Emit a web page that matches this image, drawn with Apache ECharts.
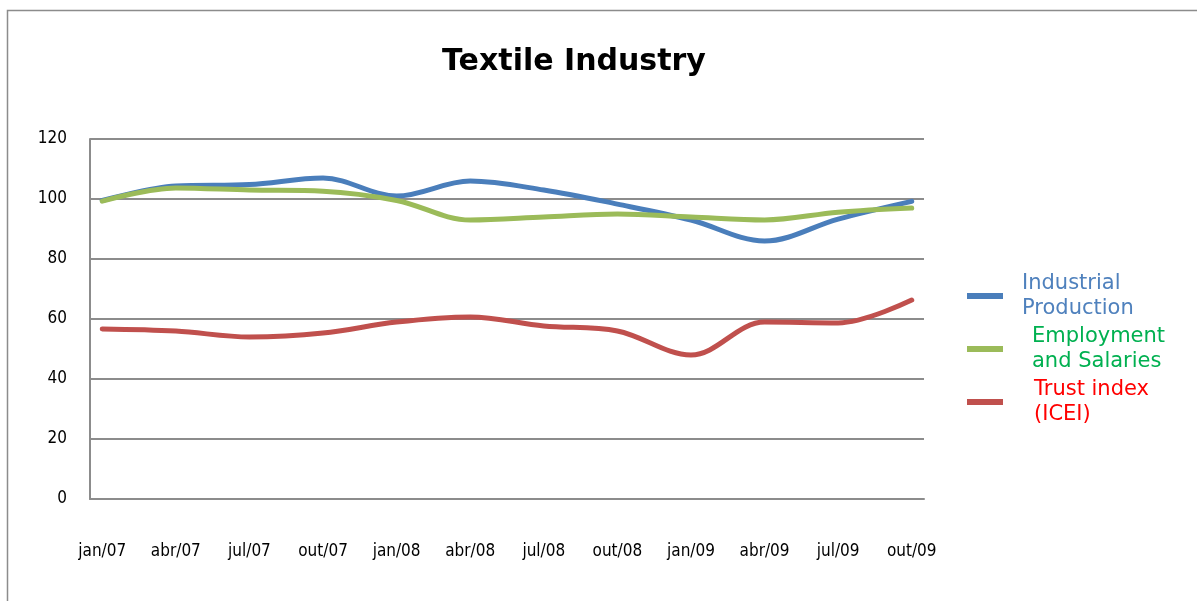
<!DOCTYPE html>
<html>
<head>
<meta charset="utf-8">
<title>Textile Industry</title>
<script src="https://cdn.jsdelivr.net/npm/echarts@6/dist/echarts.min.js"></script>
<style>
  html, body { margin: 0; padding: 0; background: #ffffff; }
  #chart { width: 1197px; height: 601px; }
</style>
</head>
<body>
<div id="chart"></div>
<script>
// Monthly axis Jan 2007 – Oct 2009; one reading per quarter (jan, abr, jul, out)
const monthNames = ['jan', 'fev', 'mar', 'abr', 'mai', 'jun', 'jul', 'ago', 'set', 'out', 'nov', 'dez'];
const years = ['07', '08', '09'];
const quarterLabels = ['jan/07', 'abr/07', 'jul/07', 'out/07', 'jan/08', 'abr/08',
                       'jul/08', 'out/08', 'jan/09', 'abr/09', 'jul/09', 'out/09'];

const industrialProduction = [99.5, 104.3, 104.8, 107.0, 101.0, 106.0, 103.0, 98.3, 93.0, 86.0, 93.3, 99.2];
const employmentSalaries   = [99.3, 103.7, 103.0, 102.6, 99.5, 93.0, 94.0, 95.0, 94.0, 93.0, 95.6, 97.0];
const trustIndex           = [56.7, 56.0, 54.0, 55.3, 59.0, 60.7, 57.7, 56.0, 48.0, 59.0, 58.7, 66.3];

const yTicks = [0, 20, 40, 60, 80, 100, 120];

const months = [];
years.forEach(y => monthNames.forEach(m => months.push(m + '/' + y)));
const categories = months.slice(0, months.indexOf('out/09') + 1);

// place each quarterly reading on its month, leaving the other months empty
function toMonthly(values) {
  const out = categories.map(() => null);
  quarterLabels.forEach((q, i) => { out[categories.indexOf(q)] = values[i]; });
  return out;
}

const chart = echarts.init(document.getElementById('chart'));

const seriesDefs = [
  { name: 'Industrial\nProduction', values: industrialProduction, color: '#4A7EBB', text: '#4F81BD', pad: 14 },
  { name: 'Employment\nand Salaries', values: employmentSalaries, color: '#9BBB59', text: '#00B050', pad: 24 },
  { name: 'Trust index\n(ICEI)', values: trustIndex, color: '#C0504D', text: '#FF0000', pad: 26 }
];

chart.setOption({
  animation: false,
  backgroundColor: '#ffffff',
  title: {
    text: 'Textile Industry',
    left: 574,
    top: 47,
    padding: 0,
    textAlign: 'center',
    textStyle: { fontFamily: 'DejaVu Sans', fontWeight: 'bold', fontSize: 30, color: '#000000' }
  },
  graphic: [{
    type: 'rect',
    shape: { x: 7.5, y: 10.5, width: 1300, height: 700 },
    style: { fill: 'none', stroke: '#8c8c8c', lineWidth: 1.5 },
    silent: true
  }],
  legend: {
    orient: 'vertical',
    left: 967,
    top: 271,
    padding: 0,
    icon: 'rect',
    itemWidth: 36,
    itemHeight: 6,
    itemGap: 3,
    textStyle: { fontFamily: 'DejaVu Sans', fontSize: 21, lineHeight: 25 },
    data: seriesDefs.map(s => ({
      name: s.name,
      textStyle: { color: s.text, padding: [0, 0, 0, s.pad] }
    }))
  },
  grid: { left: 90, top: 139, width: 834, height: 360, containLabel: false },
  xAxis: {
    type: 'category',
    data: categories,
    boundaryGap: true,
    axisLine: { show: true, lineStyle: { color: '#8c8c8c', width: 2 } },
    axisTick: { show: false },
    splitLine: { show: false },
    axisLabel: {
      interval: 2,
      margin: 44,
      fontFamily: 'DejaVu Sans Condensed',
      fontSize: 17,
      color: '#000000'
    }
  },
  yAxis: {
    type: 'value',
    min: yTicks[0],
    max: yTicks[yTicks.length - 1],
    interval: yTicks[1] - yTicks[0],
    axisLine: { show: true, lineStyle: { color: '#8c8c8c', width: 2 } },
    axisTick: { show: false },
    splitLine: { show: true, lineStyle: { color: '#8c8c8c', width: 2 } },
    axisLabel: {
      margin: 23,
      fontFamily: 'DejaVu Sans Condensed',
      fontSize: 17,
      color: '#000000'
    }
  },
  series: seriesDefs.map(s => ({
    name: s.name,
    type: 'line',
    data: toMonthly(s.values),
    connectNulls: true,
    smooth: 0.35,
    showSymbol: false,
    symbol: 'none',
    color: s.color,
    lineStyle: { color: s.color, width: 5, cap: 'round' }
  }))
});
</script>
</body>
</html>
